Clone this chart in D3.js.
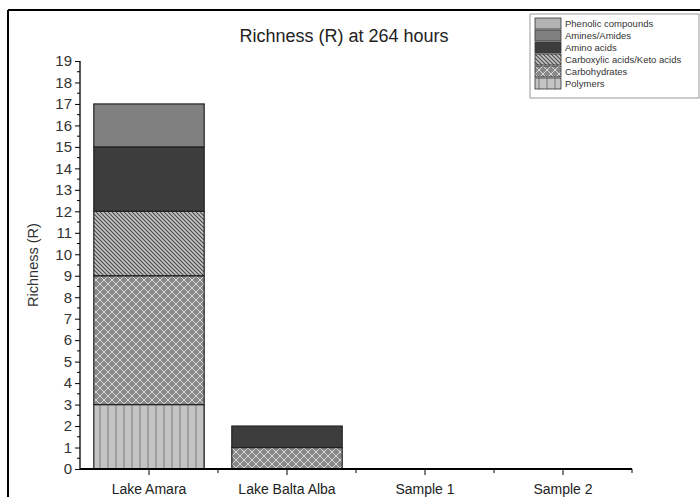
<!DOCTYPE html>
<html>
<head>
<meta charset="utf-8">
<script src="https://cdn.jsdelivr.net/npm/d3@7"></script>
<style>
  html, body { margin: 0; padding: 0; background: #fff; }
  svg { display: block; font-family: "Liberation Sans", Arial, sans-serif; }
</style>
</head>
<body>
<svg id="chart" width="700" height="497"></svg>
<script>
// Sites and stacked richness per compound class (bottom to top)
const categories = ["Lake Amara", "Lake Balta Alba", "Sample 1", "Sample 2"];
const polymers      = [3, 0, 0, 0];
const carbohydrates = [6, 1, 0, 0];
const carboxylic    = [3, 0, 0, 0];
const aminoAcids    = [3, 1, 0, 0];
const amines        = [2, 0, 0, 0];
const phenolic      = [0, 0, 0, 0];
const seriesNames = ["Polymers", "Carbohydrates", "Carboxylic acids/Keto acids",
                     "Amino acids", "Amines/Amides", "Phenolic compounds"];
const seriesValues = [polymers, carbohydrates, carboxylic, aminoAcids, amines, phenolic];
const yTicks = d3.range(0, 20);

const table = categories.map((c, i) => {
  const row = { site: c };
  seriesNames.forEach((s, j) => row[s] = seriesValues[j][i]);
  return row;
});

const svg = d3.select("#chart");
const defs = svg.append("defs");

// fill patterns for each compound class
function pat(id, w, h, bg, draw) {
  const p = defs.append("pattern").attr("id", id)
    .attr("patternUnits", "userSpaceOnUse").attr("width", w).attr("height", h);
  p.append("rect").attr("width", w).attr("height", h).attr("fill", bg);
  draw(p);
}
pat("p-poly", 8, 8, "#c3c3c3", p => {
  p.append("line").attr("x1", 4).attr("y1", 0).attr("x2", 4).attr("y2", 8)
    .attr("stroke", "#7a7a7a").attr("stroke-width", 1);
});
pat("p-carb", 8, 8, "#888", p => {
  p.append("path").attr("d", "M0,0L8,8M8,0L0,8")
    .attr("stroke", "#d8d8d8").attr("stroke-width", 1);
});
pat("p-carbox", 4, 4, "#c4c4c4", p => {
  p.append("path").attr("d", "M0,0L4,4M-1,3L1,5M3,-1L5,1")
    .attr("stroke", "#4a4a4a").attr("stroke-width", 1.1);
});

const fills = {
  "Polymers": "url(#p-poly)",
  "Carbohydrates": "url(#p-carb)",
  "Carboxylic acids/Keto acids": "url(#p-carbox)",
  "Amino acids": "#3d3d3d",
  "Amines/Amides": "#808080",
  "Phenolic compounds": "#b3b3b3"
};

const plotLeft = 80, plotRight = 632, plotTop = 61, plotBottom = 469;

const x = d3.scaleBand().domain(categories).range([plotLeft, plotRight])
  .paddingInner(0.2).paddingOuter(0.1);
const y = d3.scaleLinear().domain([0, 19]).range([plotBottom, plotTop]);

// frame lines
svg.append("line").attr("x1", 8).attr("y1", 10).attr("x2", 700).attr("y2", 10)
  .attr("stroke", "#000").attr("stroke-width", 2);
svg.append("line").attr("x1", 8).attr("y1", 10).attr("x2", 8).attr("y2", 497)
  .attr("stroke", "#000").attr("stroke-width", 2);

// stacked bars
const stacked = d3.stack().keys(seriesNames)(table);
svg.append("g").selectAll("g").data(stacked).join("g")
  .attr("fill", d => fills[d.key])
  .selectAll("rect").data(d => d.filter(s => s[1] - s[0] > 0)).join("rect")
  .attr("x", d => x(d.data.site))
  .attr("y", d => y(d[1]))
  .attr("width", x.bandwidth())
  .attr("height", d => y(d[0]) - y(d[1]))
  .attr("stroke", "#222").attr("stroke-width", 1.2);

// y axis
const yAxis = svg.append("g").attr("transform", `translate(${plotLeft},0)`)
  .call(d3.axisLeft(y).tickValues(yTicks).tickFormat(d3.format("d")).tickSize(5).tickPadding(3));
yAxis.append("g").selectAll("line").data(d3.range(0.5, 19, 1)).join("line")
  .attr("x1", -3).attr("x2", 0).attr("y1", d => y(d)).attr("y2", d => y(d))
  .attr("stroke", "#000");
yAxis.select(".domain").attr("d", `M0,${plotBottom}V${plotTop}`).attr("stroke-width", 1.3);
yAxis.selectAll("text").attr("font-size", 15).attr("fill", "#333")
  .attr("font-family", "Liberation Sans, Arial, sans-serif");

// x axis
const xAxis = svg.append("g").attr("transform", `translate(0,${plotBottom})`)
  .call(d3.axisBottom(x).tickSize(6).tickPadding(9));
xAxis.select(".domain").attr("d", `M${plotLeft},0H${plotRight}`).attr("stroke-width", 2);
const bounds = categories.slice(1).map(c => x(c) - x.step() * x.paddingInner() / 2).concat([plotRight]);
xAxis.append("g").selectAll("line").data(bounds).join("line")
  .attr("x1", d => d).attr("x2", d => d).attr("y1", 0).attr("y2", 4)
  .attr("stroke", "#000");
xAxis.selectAll(".tick text").attr("font-size", 14).attr("fill", "#222")
  .attr("font-family", "Liberation Sans, Arial, sans-serif");

// titles
svg.append("text").attr("x", 344).attr("y", 42).attr("text-anchor", "middle")
  .attr("font-size", 18).attr("fill", "#222").text("Richness (R) at 264 hours");
svg.append("text").attr("transform", `translate(38,265) rotate(-90)`)
  .attr("text-anchor", "middle").attr("font-size", 14.5).attr("fill", "#333")
  .text("Richness (R)");

// legend
const lg = svg.append("g").attr("transform", "translate(530,14)");
lg.append("rect").attr("width", 169).attr("height", 84)
  .attr("fill", "#fff").attr("stroke", "#999");
const legendOrder = seriesNames.slice().reverse();
const items = lg.selectAll("g").data(legendOrder).join("g")
  .attr("transform", (d, i) => `translate(5,${4 + i * 12})`);
items.append("rect").attr("width", 26).attr("height", 11)
  .attr("fill", d => fills[d]).attr("stroke", "#333").attr("stroke-width", 0.8);
items.append("text").attr("x", 30).attr("y", 9).attr("font-size", 9.5)
  .attr("fill", "#333").text(d => d);
</script>
</body>
</html>
